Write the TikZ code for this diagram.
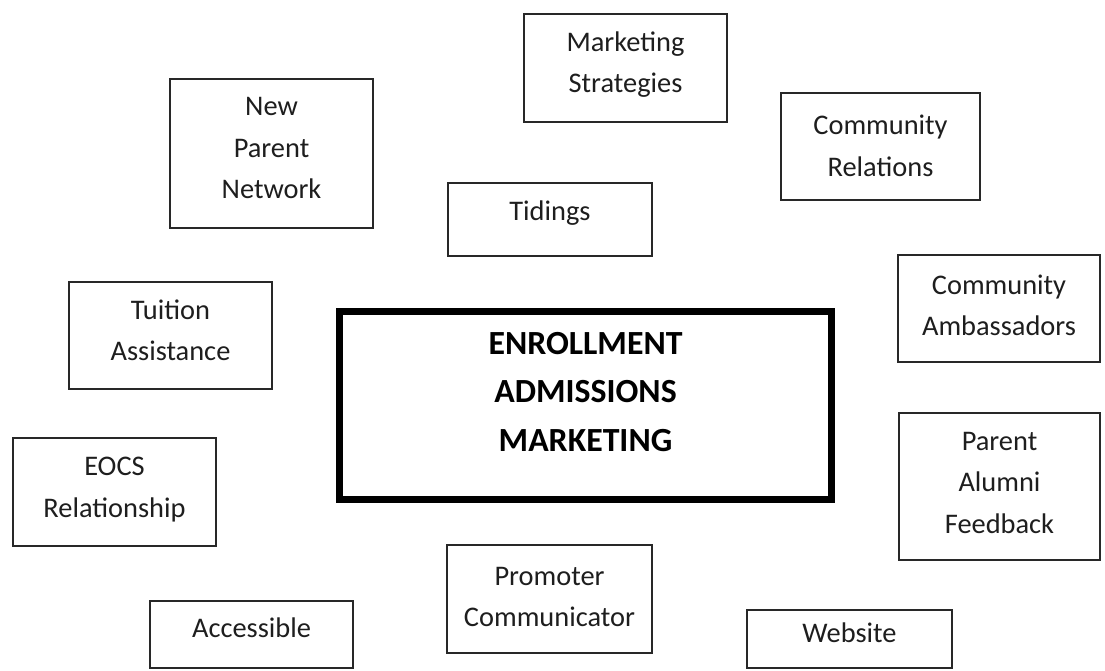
\documentclass[tikz,border=0pt]{standalone}
\usepackage{fontspec}
\setmainfont{Carlito}
\definecolor{boxc}{RGB}{40,40,40}
\definecolor{txtc}{RGB}{30,30,30}
\tikzset{
  box/.style={draw=boxc, line width=2.4pt, rectangle, inner sep=0pt},
  bigbox/.style={draw=black, line width=6.5pt, rectangle, inner sep=0pt},
  txt/.style={align=center, inner sep=0pt, text=txtc, font=\fontsize{28.4}{41.5}\selectfont},
  bigtxt/.style={align=center, inner sep=0pt, text=black, font=\bfseries\fontsize{33.8}{48.5}\selectfont},
}
\begin{document}
\begin{tikzpicture}[x=1pt, y=-1pt]
\useasboundingbox[fill=white] (0,0) rectangle (1105,671);

% boxes: centre (x,y), width, height
\node[box, minimum width=203pt, minimum height=108pt] (ms)   at (625.5,68)   {};
\node[box, minimum width=203pt, minimum height=149pt] (npn)  at (271.5,153.5) {};
\node[box, minimum width=199pt, minimum height=107pt] (cr)   at (880.5,146.5) {};
\node[box, minimum width=204pt, minimum height=73pt]  (tid)  at (550,219.5)  {};
\node[box, minimum width=202pt, minimum height=107pt] (ca)   at (999,308.5)  {};
\node[box, minimum width=203pt, minimum height=107pt] (ta)   at (170.5,335.5) {};
\node[bigbox, minimum width=492pt, minimum height=188pt] (ctr) at (585.5,405.5) {};
\node[box, minimum width=201pt, minimum height=147pt] (paf)  at (999.5,486.5) {};
\node[box, minimum width=203pt, minimum height=108pt] (eocs) at (114.5,492)  {};
\node[box, minimum width=205pt, minimum height=108pt] (pc)   at (549.5,599)  {};
\node[box, minimum width=203pt, minimum height=67pt]  (acc)  at (251.5,634.5) {};
\node[box, minimum width=205pt, minimum height=58pt]  (web)  at (849.5,639)  {};

% texts
\node[txt] (ms-t)   at ([yshift=3.5pt]ms.center)   {Marketing\\Strategies};
\node[txt] (npn-t)  at ([yshift=5.5pt]npn.center)  {New\\Parent\\Network};
\node[txt] (cr-t)   at ([yshift=0.5pt]cr.center)   {Community\\Relations};
\node[txt] (tid-t)  at ([yshift=6pt]tid.center)    {Tidings};
\node[txt] (ca-t)   at ([yshift=3pt]ca.center)     {Community\\Ambassadors};
\node[txt] (ta-t)   at ([yshift=5pt]ta.center)     {Tuition\\Assistance};
\node[bigtxt] (ctr-t) at ([yshift=13.5pt]ctr.center) {ENROLLMENT\\ADMISSIONS\\MARKETING};
\node[txt] (paf-t)  at ([yshift=4pt]paf.center)    {Parent\\Alumni\\Feedback};
\node[txt] (eocs-t) at ([yshift=2.5pt]eocs.center) {EOCS\\Relationship};
\node[txt] (pc-t)   at ([yshift=2pt]pc.center)     {Promoter\\Communicator};
\node[txt] (acc-t)  at ([yshift=7pt]acc.center)    {Accessible};
\node[txt] (web-t)  at ([yshift=6pt]web.center)    {Website};
\end{tikzpicture}
\end{document}
